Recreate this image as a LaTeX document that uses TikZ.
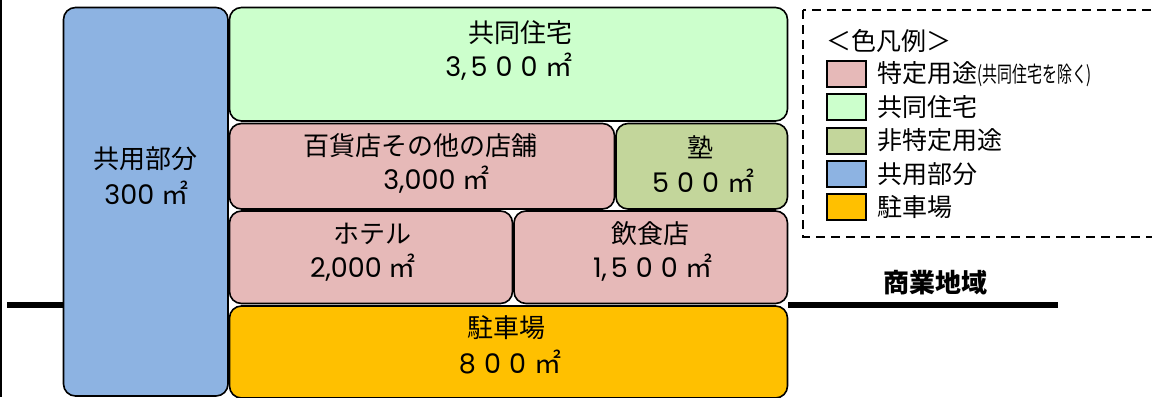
\documentclass[tikz,border=0pt]{standalone}
\usepackage{fontspec}
\usepackage{graphicx}
\setmainfont{Noto Sans CJK JP}
\newfontfamily\numfont{Poppins}
\definecolor{commonblue}{HTML}{8DB3E2}
\definecolor{housegreen}{HTML}{CCFFCC}
\definecolor{usepink}{HTML}{E6B9B8}
\definecolor{otherolive}{HTML}{C3D69B}
\definecolor{parkorange}{HTML}{FFC000}
\newcommand{\sqm}{{\rmfamily ㎡}}
\newcommand{\wdigit}[1]{\makebox[25pt]{#1}}
\tikzset{
  floorbox/.style={draw=black, line width=1.6pt, rounded corners=12pt, inner sep=0pt},
  usename/.style={inner sep=0pt, font=\fontsize{26}{30}\selectfont},
  usearea/.style={inner sep=0pt, font=\numfont\fontsize{27}{30}\selectfont},
  swatch/.style={draw=black, line width=2pt, minimum width=39pt, minimum height=26pt, inner sep=0pt},
  legendtext/.style={anchor=west, inner sep=0pt, font=\fontsize{25}{28}\selectfont},
  ground/.style={line width=6pt},
}
\begin{document}
\begin{tikzpicture}[x=1pt, y=-1pt]
    \path[use as bounding box] (0,0) rectangle (1152,397);
    \draw[line width=2pt] (1,0) -- (1,397);

    % Floors
    \foreach \nm/\col/\xa/\ya/\xb/\yb in {
    common/commonblue/63.5/7.5/228/396,
    house/housegreen/229.5/7.5/787.5/121,
    store/usepink/229.5/123.5/614.5/209,
    juku/otherolive/616/123.5/787.5/209,
    hotel/usepink/229.5/211/512.5/303.5,
    dine/usepink/514/211/787.5/303.5,
    park/parkorange/229.5/306/787.5/398}
    {
      \node[floorbox, fill=\col, minimum width={\xb-\xa}, minimum height={\yb-\ya}]
        (\nm) at ({(\xa+\xb)/2},{(\ya+\yb)/2}) {};
    }

    % Uses and areas
    \node[usename] (commonname) at (145,158.5) {共用部分};
    \node[usearea] (commonarea) at (146.5,193) {300 \sqm};
    \node[usename] (housename) at (520,33) {共同住宅};
    \node[usearea] (housearea) at (509,66.5) {3,\wdigit{5}\wdigit{0}\wdigit{0}\hspace{4pt}\sqm};
    \node[usename] (storename) at (420.5,146) {百貨店その他の店舗};
    \node[usearea] (storearea) at (436.5,180) {3,000 \sqm};
    \node[usename] (jukuname) at (700,147) {塾};
    \node[usearea] (jukuarea) at (701,181) {\wdigit{5}\wdigit{0}\wdigit{0}\hspace{4pt}\sqm};
    \node[usename] (hotelname) at (372,234) {ホテル};
    \node[usearea] (hotelarea) at (363,268) {2,000 \sqm};
    \node[usename] (dinename) at (650,234) {飲食店};
    \node[usearea] (dinearea) at (653,268) {1,\wdigit{5}\wdigit{0}\wdigit{0}\hspace{4pt}\sqm};
    \node[usename] (parkname) at (506,327.5) {駐車場};
    \node[usearea] (parkarea) at (508,362) {\wdigit{8}\wdigit{0}\wdigit{0}\hspace{4pt}\sqm};

    % Ground
    \coordinate (groundL) at (7,305);
    \coordinate (groundR) at (1058,305);
    \draw[ground] (groundL) -- (groundL -| common.west);
    \draw[ground] (park.east |- groundR) -- (groundR);
    \node[inner sep=0pt, font=\bfseries\fontsize{26}{30}\selectfont] (zone) at (935,283) {商業地域};

    % Legend
    \draw[line width=1.3pt, dash pattern=on 9pt off 6pt] (803,10) rectangle (1170,237);
    \node[legendtext] (legendtitle) at (826,41) {＜色凡例＞};
    \foreach \col/\txt [count=\i from 0] in {
    usepink/{特定用途\scalebox{0.68}[1]{\fontsize{22}{24}\selectfont (共同住宅を除く)}},
    housegreen/共同住宅,
    otherolive/非特定用途,
    commonblue/共用部分,
    parkorange/駐車場}
    {
      \node[swatch, fill=\col] (swatch\i) at (846.5,74+33.25*\i) {};
      \node[legendtext] (key\i) at (877,74+33.25*\i) {\txt};
    }
  \end{tikzpicture}
\end{document}
